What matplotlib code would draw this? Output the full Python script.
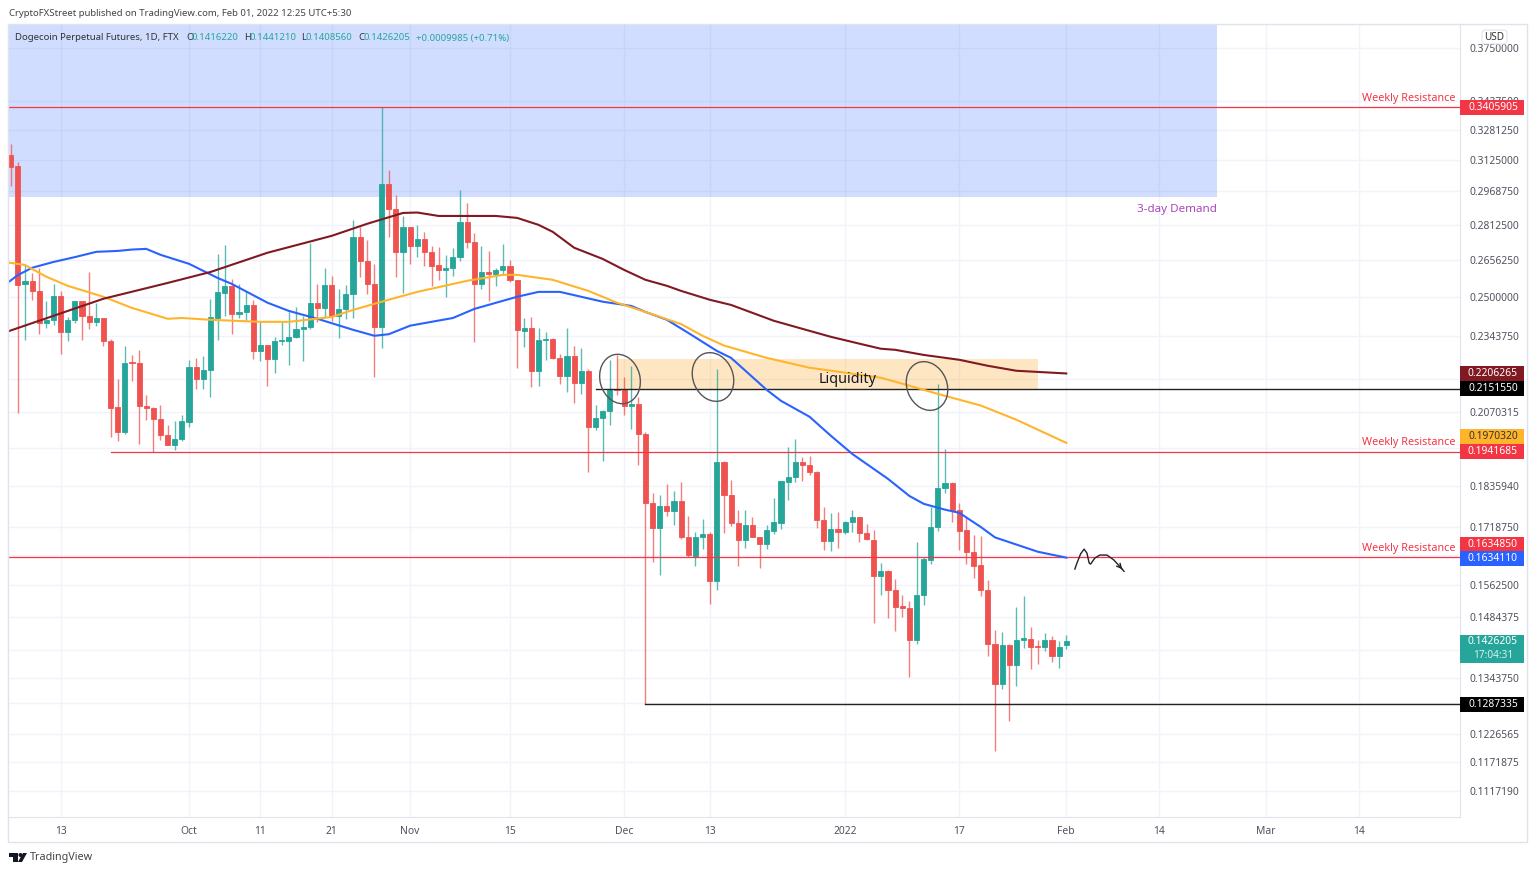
import numpy as np
import matplotlib
matplotlib.use("Agg")
import matplotlib.pyplot as plt
from matplotlib.patches import Ellipse, Rectangle, FancyBboxPatch, Polygon, Circle

plt.rcParams["font.family"] = "Noto Sans"

# daily candles, first one is 2021-09-06, last one 2022-02-01
opens = [.3150, .3094, .2553, .2566, .2525, .2395, .2408, .2504, .2359, .2408,
         .2481, .2421, .2401, .2415, .2328, .2088, .2007, .2247, .2246, .2094,
         .2084, .2049, .1996, .1965, .1984, .2040, .2230, .2187, .2218, .2416,
         .2517, .2544, .2429, .2440, .2467, .2287, .2311, .2260, .2328, .2328,
         .2343, .2374, .2378, .2474, .2454, .2549, .2421, .2450, .2512, .2758,
         .2652, .2553, .2380, .3004, .2883, .2690, .2800, .2717, .2746, .2690,
         .2632, .2611, .2622, .2669, .2822, .2735, .2554, .2603, .2594, .2611,
         .2629, .2569, .2366, .2377, .2214, .2331, .2335, .2261, .2197, .2271,
         .2171, .2215, .2023, .2052, .2077, .2150, .2148, .2094, .2098, .2000,
         .1786, .1715, .1779, .1764, .1792, .1690, .1639, .1690, .1698, .1573,
         .1910, .1810, .1730, .1681, .1724, .1691, .1672, .1707, .1730, .1850,
         .1863, .1910, .1899, .1880, .1737, .1678, .1711, .1704, .1732, .1745,
         .1702, .1681, .1587, .1600, .1551, .1510, .1505, .1430, .1537, .1627,
         .1717, .1832, .1846, .1767, .1709, .1650, .1614, .1551, .1419, .1330,
         .1418, .1372, .1428, .1432, .1414, .1412, .1430, .1391, .141622]
closes = [.3091, .2549, .2566, .2524, .2395, .2408, .2504, .2359, .2408, .2481,
          .2421, .2398, .2415, .2328, .2086, .2007, .2246, .2244, .2091, .2084,
          .2049, .1996, .1965, .1984, .2043, .2230, .2187, .2218, .2418, .2519,
          .2544, .2429, .2438, .2467, .2287, .2311, .2260, .2326, .2331, .2343,
          .2374, .2381, .2474, .2454, .2549, .2421, .2450, .2512, .2758, .2652,
          .2553, .2380, .3004, .2883, .2690, .2800, .2717, .2746, .2690, .2630,
          .2611, .2622, .2669, .2822, .2735, .2554, .2603, .2594, .2611, .2629,
          .2569, .2368, .2377, .2214, .2331, .2335, .2261, .2197, .2271, .2171,
          .2215, .2023, .2053, .2077, .2148, .2147, .2094, .2098, .2000, .1787,
          .1715, .1779, .1764, .1792, .1690, .1641, .1690, .1698, .1573, .1910,
          .1810, .1730, .1681, .1724, .1691, .1672, .1709, .1731, .1851, .1864,
          .1910, .1899, .1880, .1737, .1678, .1711, .1704, .1732, .1745, .1701,
          .1684, .1587, .1600, .1551, .1509, .1505, .1430, .1538, .1630, .1717,
          .1832, .1846, .1766, .1708, .1650, .1613, .1551, .1419, .1330, .1418,
          .1372, .1428, .1433, .1412, .1412, .1430, .1391, .1412, .1426205]
highs = [.3207, .3116, .2633, .2598, .2622, .2481, .2552, .2524, .2418, .2484,
         .2484, .2602, .2474, .2415, .2334, .2187, .2308, .2274, .2293, .2131,
         .2089, .2097, .2029, .2043, .2061, .2256, .2264, .2270, .2491, .2682,
         .2718, .2573, .2553, .2521, .2488, .2398, .2311, .2343, .2403, .2437,
         .2458, .2421, .2728, .2552, .2619, .2588, .2531, .2549, .2834, .2803,
         .2743, .2637, .3405, .3074, .2952, .2854, .2800, .2810, .2779, .2716,
         .2711, .2677, .2705, .2976, .2915, .2773, .2716, .2695, .2619, .2725,
         .2654, .2569, .2415, .2418, .2377, .2360, .2338, .2278, .2377, .2308,
         .2300, .2222, .2096, .2080, .2256, .2274, .2193, .2235, .2123, .2007,
         .1816, .1810, .1843, .1823, .1848, .1749, .1703, .1741, .1704, .2224,
         .1912, .1855, .1767, .1766, .1746, .1691, .1724, .1802, .1853, .1957,
         .1982, .1927, .1929, .1881, .1775, .1757, .1760, .1736, .1765, .1746,
         .1727, .1710, .1620, .1602, .1578, .1537, .1522, .1675, .1637, .1775,
         .2168, .1950, .1848, .1787, .1745, .1696, .1693, .1576, .1453, .1448,
         .1419, .1508, .1535, .1459, .1428, .1445, .1438, .1426, .144121]
lows = [.2996, .2069, .2331, .2488, .2354, .2375, .2388, .2278, .2328, .2395,
        .2331, .2373, .2382, .2309, .1989, .1975, .1999, .2178, .1966, .2046,
        .1941, .1980, .1964, .1946, .1976, .2021, .2152, .2152, .2122, .2331,
        .2424, .2354, .2415, .2405, .2260, .2250, .2160, .2208, .2312, .2237,
        .2339, .2253, .2373, .2398, .2418, .2405, .2339, .2411, .2416, .2581,
        .2512, .2192, .2301, .2755, .2582, .2517, .2638, .2669, .2629, .2544,
        .2570, .2501, .2587, .2648, .2707, .2324, .2533, .2481, .2545, .2592,
        .2559, .2225, .2302, .2158, .2162, .2256, .2258, .2168, .2139, .2103,
        .2132, .1878, .2011, .1912, .2029, .2131, .2062, .2015, .1901, .1287,
        .1622, .1589, .1750, .1723, .1685, .1635, .1613, .1658, .1515, .1551,
        .1701, .1722, .1613, .1660, .1689, .1608, .1658, .1699, .1712, .1796,
        .1850, .1853, .1870, .1716, .1655, .1651, .1661, .1698, .1705, .1675,
        .1683, .1470, .1538, .1482, .1449, .1484, .1346, .1419, .1513, .1617,
        .1708, .1816, .1733, .1655, .1618, .1582, .1534, .1392, .1192, .1320,
        .1252, .1326, .1411, .1363, .1375, .1404, .1379, .1366, .140856]

blue_days = [-1, 1, 3, 6, 9, 12, 15, 17, 19, 21, 25, 29, 31, 36, 39, 43, 48, 51, 53, 56, 62, 65, 71, 74, 77,
             83, 87, 89, 92, 95, 99, 101, 106, 108, 112, 115, 118, 123, 126, 128, 131, 133, 136, 138, 144, 148]
blue_vals = [.2545, .2590, .2621, .2646, .2667, .2690, .2694, .2700, .2703, .2677, .2638, .2578, .2553, .2476,
             .2443, .2412, .2369, .2346, .2352, .2385, .2415, .2451, .2500, .2520, .2520, .2480, .2463, .2439,
             .2408, .2357, .2289, .2263, .2148, .2110, .2056, .1993, .1935, .1858, .1807, .1784, .1767, .1758,
             .1718, .1689, .1650, .163411]
red_days = [-1, 8, 13, 22, 28, 36, 45, 50, 55, 57, 60, 68, 71, 74, 76, 79, 83, 86, 89, 92, 94, 98,
            101, 107, 112, 115, 119, 122, 124, 128, 133, 137, 141, 148]
red_vals = [.2357, .2443, .2492, .2557, .2603, .2686, .2761, .2816, .2866, .2868, .2852, .2852, .2843,
            .2811, .2779, .2708, .2659, .2612, .2570, .2545, .2524, .2488, .2467, .2404, .2365, .2342,
            .2316, .2297, .2293, .2274, .2256, .2234, .2216, .2206265]
orange_days = [-1, 0, 2, 5, 8, 13, 17, 22, 24, 28, 35, 39, 45, 48, 53, 57, 64, 69, 71, 76, 81, 85, 89,
               94, 97, 100, 106, 112, 117, 122, 125, 130, 136, 141, 148]
orange_vals = [.2646, .2642, .2633, .2583, .2545, .2500, .2455, .2412, .2415, .2408, .2400, .2400, .2419,
               .2447, .2488, .2520, .2566, .2591, .2591, .2570, .2524, .2476, .2439, .2391, .2346, .2309,
               .2263, .2227, .2209, .2191, .2170, .2134, .2094, .2046, .197032]

# hand drawn squiggle right of the last candle
squiggle_days = [149.2, 149.5, 150, 150.5, 150.9, 151.2, 151.4, 152, 152.7, 153.7, 154.6, 155.5, 156.1]
squiggle_vals = [.1604, .1620, .1644, .1657, .1646, .1620, .1617, .1633, .1641, .1641, .1629, .1611, .1598]

res_top = .3405905
res_mid = .1941685
res_low = .163485
sup_top = .215155
sup_low = .1287335

y_ticks = [.375, .34375, .328125, .3125, .296875, .28125, .265625, .25, .234375, .21875, .2070315,
           .1953125, .183594, .171875, .1640625, .15625, .1484375, .140625, .134375, .12890625,
           .1226565, .1171875, .111719]
# the empty ones sit behind price tags in the original
y_labels = ["0.3750000", "0.3437500", "0.3281250", "0.3125000", "0.2968750", "0.2812500", "0.2656250",
            "0.2500000", "0.2343750", "", "0.2070315", "", "0.1835940", "0.1718750",
            "", "0.1562500", "0.1484375", "", "0.1343750", "", "0.1226565",
            "0.1171875", "0.1117190"]
x_ticks = [7, 25, 35, 45, 56, 70, 86, 98, 117, 133, 148, 161, 176, 189]
x_labels = ["13", "Oct", "11", "21", "Nov", "15", "Dec", "13", "2022", "17", "Feb", "14", "Mar", "14"]

# text, price, box colour, text colour, shift in pixels so the tags do not overlap
tags = [("0.3405905", res_top, "#f23645", "white", 0),
        ("0.2206265", red_vals[-1], "#801922", "white", 0),
        ("0.2151550", sup_top, "#000000", "white", 0),
        ("0.1970320", orange_vals[-1], "#ffb52b", "#333333", -6),
        ("0.1941685", res_mid, "#f23645", "white", 0),
        ("0.1634850", res_low, "#f23645", "white", -13),
        ("0.1634110", blue_vals[-1], "#2962ff", "white", 1),
        ("0.1287335", sup_low, "#000000", "white", 0)]

UP = "#26a69a"
DOWN = "#ef5350"
RED = "#f23645"
GRID = "#f0f3fa"
BORDER = "#e0e3eb"
TXT = "#50535e"

W, H = 1536, 873
fig = plt.figure(figsize=(W / 100, H / 100), dpi=100, facecolor="white")
ax = fig.add_axes([9 / W, 1 - 817 / H, (1460 - 9) / W, (817 - 24) / H])
ax.set_yscale("log")
ax.set_xlim(-0.24, 203.2)
ax.set_ylim(.10708, .38996)
ax.yaxis.tick_right()
ax.minorticks_off()
ax.set_yticks(y_ticks)
ax.set_yticklabels(y_labels)
ax.set_xticks(x_ticks)
ax.set_xticklabels(x_labels)
ax.tick_params(axis="both", length=0, labelsize=7.4, labelcolor=TXT)
ax.tick_params(axis="y", pad=6.5)
ax.tick_params(axis="x", pad=6.5)
ax.minorticks_off()
for lab in ax.get_xticklabels():
    if lab.get_text() == "2022":
        lab.set_fontweight("bold")
ax.grid(True, color=GRID, lw=1)
ax.set_axisbelow(True)
for name, s in ax.spines.items():
    s.set_color(BORDER)
    s.set_visible(name in ("right", "bottom"))

# zones
ax.add_patch(Rectangle((-5, .2941), 174.1, .2, color="#2962ff", alpha=.21, lw=0, zorder=1))
ax.add_patch(Rectangle((85, sup_top), 59, .2260 - sup_top, color="#ff9800", alpha=.24, lw=0, zorder=1))

# candles
days = np.arange(len(opens))
o = np.array(opens)
c = np.array(closes)
colors = np.where(c >= o, UP, DOWN)
ax.vlines(days, lows, highs, colors=colors, lw=1, alpha=.75, zorder=2)
ax.bar(days, np.abs(c - o), bottom=np.minimum(o, c), width=.72, color=colors, edgecolor=colors, lw=.6, zorder=3)

# levels
ax.axhline(res_top, color=RED, lw=.9, zorder=4)
ax.plot([14, 204], [res_mid, res_mid], color=RED, lw=.9, zorder=4)
ax.axhline(res_low, color=RED, lw=.9, zorder=4)
ax.plot([82, 204], [sup_top, sup_top], color="#222222", lw=1, zorder=4)
ax.plot([89, 204], [sup_low, sup_low], color="#222222", lw=1, zorder=4)

# averages
ax.plot(blue_days, blue_vals, color="#2962ff", lw=1.5, zorder=5)
ax.plot(orange_days, orange_vals, color="#ffb52b", lw=1.5, zorder=5)
ax.plot(red_days, red_vals, color="#801922", lw=1.5, zorder=5)

# squiggle
ax.plot(squiggle_days, squiggle_vals, color="#222222", lw=1, zorder=6)
ax.annotate("", xy=(squiggle_days[-1], squiggle_vals[-1]), xytext=(squiggle_days[-2], squiggle_vals[-2]),
            arrowprops=dict(arrowstyle="->", color="#222222", lw=1, mutation_scale=8), zorder=6)

ax.text(169.1, .2880, "3-day Demand", color="#ab47bc", fontsize=8.4, ha="right", va="center")
ax.text(117.4, .2184, "Liquidity", color="#131722", fontsize=10.4, fontweight="medium",
        ha="center", va="center", zorder=6)
for lvl in [res_top, res_mid, res_low]:
    ax.annotate("Weekly Resistance", xy=(1, lvl), xycoords=ax.get_yaxis_transform(),
                xytext=(-5, 9), textcoords="offset pixels", color=RED, fontsize=7.8,
                ha="right", va="center", zorder=6)

# overlay in pixels for everything around the plot
ov = fig.add_axes([0, 0, 1, 1], facecolor="none")
ov.set_xlim(0, W)
ov.set_ylim(H, 0)
ov.axis("off")

# outer frame
ov.add_patch(Rectangle((8, 24), 1519, 818, fill=False, ec=BORDER, lw=1))

# circles around the wicks
for cx, cy, tilt in [(620, 379, -15), (713, 377, -22), (927, 386, -22)]:
    ov.add_patch(Ellipse((cx, cy), 40, 50, angle=tilt, fill=False, ec="#555555", lw=1))

# price tags
for text, price, box, col, shift in tags:
    _, py = ax.transData.transform((0, price))
    py = H - py + shift
    ov.add_patch(Rectangle((1460, py - 7.5), 64, 15, color=box, lw=0, zorder=8))
    ov.text(1493, py, text, color=col, fontsize=7.4, ha="center", va="center", zorder=9)
ov.add_patch(Rectangle((1460, 635), 64, 28, color=UP, lw=0, zorder=8))
ov.text(1493, 642, "0.1426205", color="white", fontsize=7.4, ha="center", va="center", zorder=9)
ov.text(1493, 655.5, "17:04:31", color="#d8f0ee", fontsize=7.2, ha="center", va="center", zorder=9)

ov.add_patch(FancyBboxPatch((1483, 31), 23, 12, boxstyle="round,pad=1,rounding_size=3", fc="white", ec=BORDER, lw=.8, zorder=8))
ov.text(1494.5, 37, "USD", color="#333333", fontsize=7.2, ha="center", va="center", zorder=9)

# header
ov.text(9, 14, "CryptoFXStreet published on TradingView.com, Feb 01, 2022 12:25 UTC+5:30",
        color="#444444", fontsize=6.9, va="center")
ov.text(15, 38, "Dogecoin Perpetual Futures, 1D, FTX", color="#333333", fontsize=6.9, va="center")
for x, t in [(186, "O"), (244, "H"), (301, "L"), (358, "C")]:
    ov.text(x, 38, t, color="#333333", fontsize=6.9, va="center")
for x, t in [(191.5, "0.1416220"), (250, "0.1441210"), (306, "0.1408560"), (363, "0.1426205"),
             (416, "+0.0009985 (+0.71%)")]:
    ov.text(x, 38, t, color=UP, fontsize=6.9, va="center")

# footer logo
ov.add_patch(Rectangle((9, 853), 9, 4, color="#131722", lw=0))
ov.add_patch(Rectangle((13, 853), 4.5, 9, color="#131722", lw=0))
ov.add_patch(Circle((20.5, 855), 2, color="#131722", lw=0))
ov.add_patch(Polygon([[23, 853], [27, 853], [22, 862], [18, 862]], color="#131722", lw=0))
ov.text(30, 857.5, "TradingView", color="#444444", fontsize=7.8, va="center")

fig.savefig("out.png", dpi=100, facecolor="white")
